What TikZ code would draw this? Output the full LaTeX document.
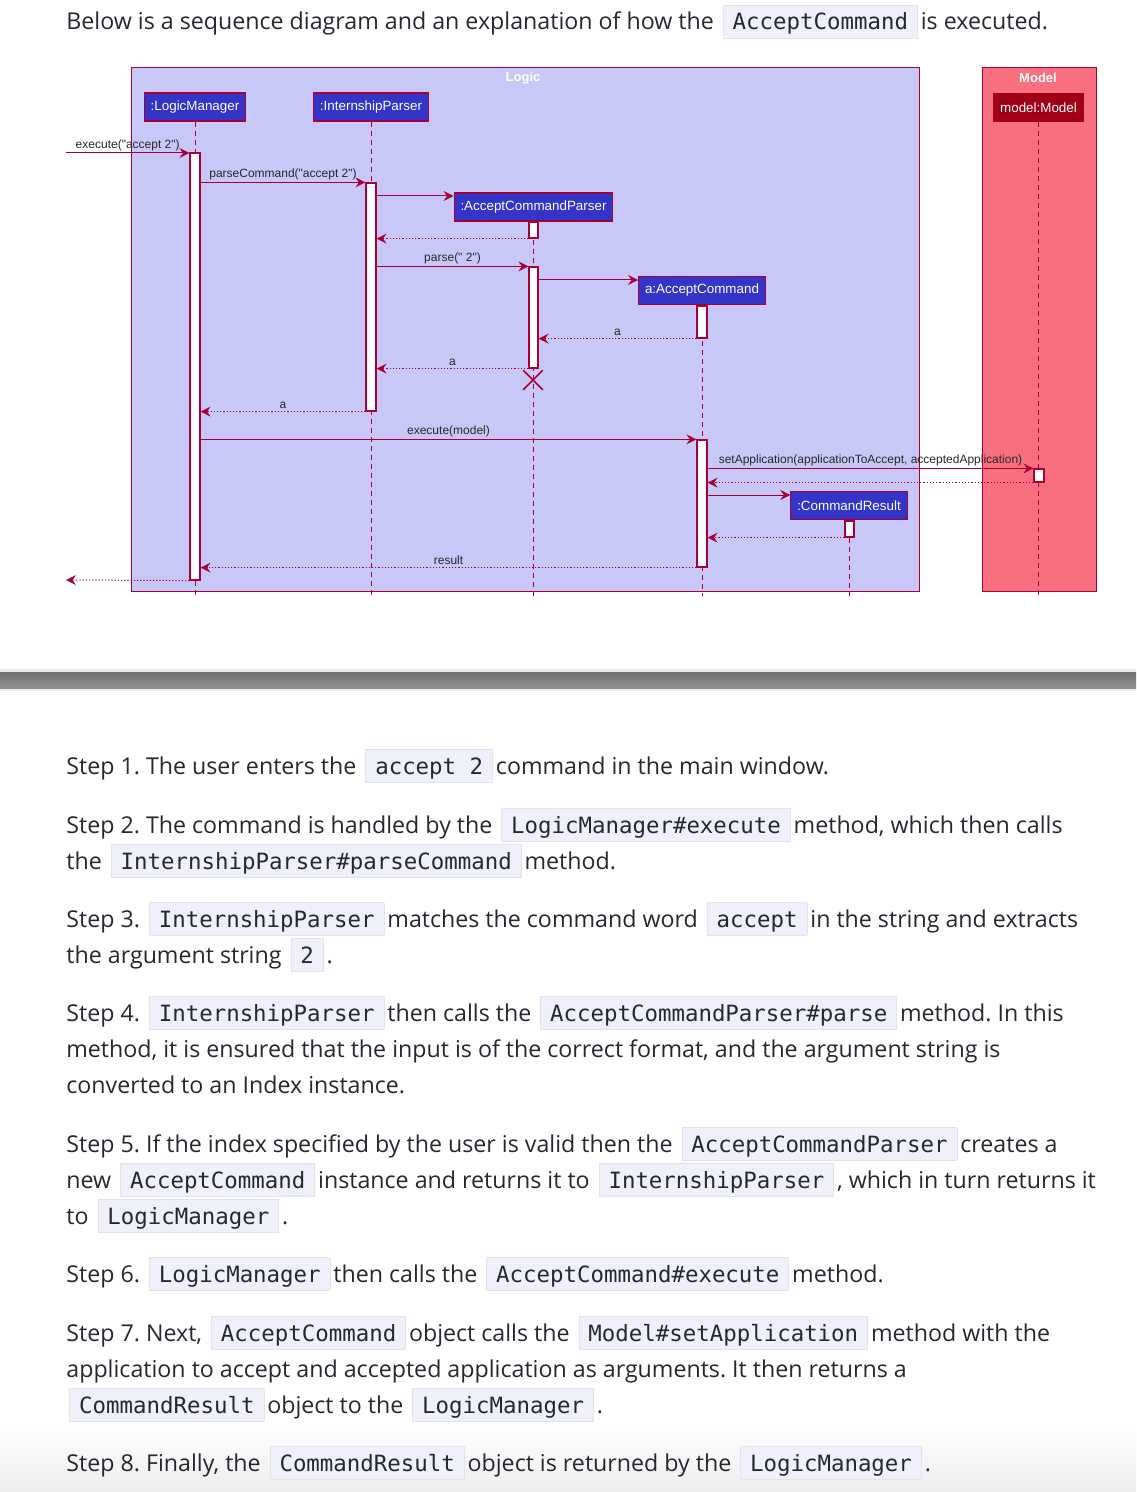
\documentclass[tikz,border=0pt]{standalone}
\usepackage{fontspec}
\setmainfont{Open Sans}
\newfontfamily\umlfont{Liberation Sans}
\newfontfamily\codefont{DejaVu Sans Mono}
\usetikzlibrary{arrows.meta,fit,shapes.misc,positioning}
\definecolor{LogicClr}{RGB}{200,200,248}
\definecolor{ModelClr}{RGB}{248,112,128}
\definecolor{UmlLine}{RGB}{168,0,54}
\definecolor{PartClr}{RGB}{52,52,200}
\definecolor{ModelPartClr}{RGB}{160,0,24}
\definecolor{CodeBg}{RGB}{240,240,251}
\definecolor{CodeLine}{RGB}{226,226,240}
\definecolor{TextClr}{RGB}{36,41,47}
\definecolor{LblClr}{RGB}{40,40,40}
\frenchspacing
\newcommand\code[1]{\kern1.5pt{\setlength{\fboxsep}{0pt}\setlength{\fboxrule}{0.4pt}%
\fcolorbox{CodeLine}{CodeBg}{\kern4.5pt\rule[-4pt]{0pt}{16pt}\codefont\fontsize{11.2}{16}\selectfont #1\kern4.5pt}}\kern1.5pt}

\begin{document}
\begin{tikzpicture}[x=0.5pt,y=-0.5pt,
  part/.style={draw=UmlLine,fill=PartClr,text=white,line width=0.6pt,inner xsep=3.2pt,inner ysep=0pt,
    minimum height=14pt,font=\umlfont\fontsize{6.7}{8}\selectfont},
  life/.style={UmlLine,line width=0.5pt,dash pattern=on 2.5pt off 2pt},
  actbar/.style={draw=UmlLine,fill=white,line width=0.6pt,inner sep=0pt},
  msg/.style={UmlLine,line width=0.5pt,-{Stealth[length=5pt,width=5pt,inset=1.8pt]}},
  ret/.style={msg,dash pattern=on 0.6pt off 1pt},
  lbl/.style={font=\umlfont\fontsize{6}{7}\selectfont,text=LblClr,inner sep=1pt,above},
  frametitle/.style={text=white,font=\umlfont\bfseries\fontsize{6.5}{8}\selectfont,inner sep=0pt},
  txt/.style={anchor=base west,inner sep=0pt,text=TextClr,font=\fontsize{11.6}{18}\selectfont}]
\useasboundingbox[fill=white] (0,0) rectangle (1136,1492);
\shade[top color=white,bottom color=black!7] (0,1425) rectangle (1136,1492);

% frames
\draw[UmlLine,fill=LogicClr,line width=0.5pt] (131,68) rectangle (919,591);
\draw[UmlLine,fill=ModelClr,line width=0.5pt] (982,68) rectangle (1096,591);
\node[frametitle] (logic) at (523,78) {Logic};
\node[frametitle] (model) at (1038,78) {Model};

% participants
\node[part] (lm) at (195,107) {:LogicManager};
\node[part] (ip) at (371,107) {:InternshipParser};
\node[part] (acp) at (533.5,207) {:AcceptCommandParser};
\node[part] (ac) at (702,290.5) {a:AcceptCommand};
\node[part] (cr) at (849,505.5) {:CommandResult};
\node[part,fill=ModelPartClr,draw=ModelPartClr] (md) at (1038.5,107.5) {model:Model};

\foreach \p in {lm,ip,acp,ac,cr,md}
  \draw[life] (\p.south) -- (\p.south |- 0,596);

% activations
\node[actbar,fit={(190,153) (200,580)}] (lmA) {};
\node[actbar,fit={(366,183) (376,411)}] (ipA) {};
\node[actbar,fit={(529,222) (538,238)}] (acpA1) {};
\node[actbar,fit={(529,267) (538,368)}] (acpA2) {};
\node[actbar,fit={(697,306) (707,338)}] (acA1) {};
\node[actbar,fit={(697,440) (707,567)}] (acA2) {};
\node[actbar,fit={(1034,469) (1044,482)}] (mdA) {};
\node[actbar,fit={(845,521) (854,537)}] (crA) {};
\node[draw=UmlLine,cross out,line width=0.8pt,minimum size=9pt,inner sep=0pt] (acpX) at (533,380) {};

\coordinate (in) at (66,153);
\coordinate (out) at (66,580);
\coordinate (newacp) at (0,196);
\coordinate (newac) at (0,280);
\coordinate (newcr) at (0,495);

% messages
\draw[msg] (in) -- (lmA.west |- in) node[lbl,midway] (l1) {execute("accept 2")};
\draw[msg] (lmA.east |- ipA.north) -- (ipA.north west) node[lbl,midway] (l2) {parseCommand("accept 2")};
\draw[msg] (ipA.east |- newacp) -- (acp.west |- newacp);
\draw[ret] (acpA1.south west) -- (ipA.east |- acpA1.south);
\draw[msg] (ipA.east |- acpA2.north) -- (acpA2.north west) node[lbl,midway] (l3) {parse(" 2")};
\draw[msg] (acpA2.east |- newac) -- (ac.west |- newac);
\draw[ret] (acA1.south west) -- (acpA2.east |- acA1.south) node[lbl,midway] (l4) {a};
\draw[ret] (acpA2.south west) -- (ipA.east |- acpA2.south) node[lbl,midway] (l5) {a};
\draw[ret] (ipA.south west) -- (lmA.east |- ipA.south) node[lbl,midway] (l6) {a};
\draw[msg] (lmA.east |- acA2.north) -- (acA2.north west) node[lbl,midway] (l7) {execute(model)};
\draw[msg] (acA2.east |- mdA.north) -- (mdA.north west) node[lbl,midway] (l8) {setApplication(applicationToAccept, acceptedApplication)};
\draw[ret] (mdA.south west) -- (acA2.east |- mdA.south);
\draw[msg] (acA2.east |- newcr) -- (cr.west |- newcr);
\draw[ret] (crA.south west) -- (acA2.east |- crA.south);
\draw[ret] (acA2.south west) -- (lmA.east |- acA2.south) node[lbl,midway] (l9) {result};
\draw[ret] (lmA.south west) -- (out);

% separator
\fill[black!8] (0,669) rectangle (1136,691);
\shade[top color=black!55,bottom color=black!44] (0,672) rectangle (1136,688);

% text
\node[txt] (head) at (66,30) {Below is a sequence diagram and an explanation of how the \code{AcceptCommand} is executed.};
\node[txt] (s1) at (66,774) {Step 1. The user enters the \code{accept 2} command in the main window.};
\node[txt] (s2a) at (66,833) {Step 2. The command is handled by the \code{LogicManager\#execute} method, which then calls};
\node[txt] (s2b) at (66,869) {the \code{InternshipParser\#parseCommand} method.};
\node[txt] (s3a) at (66,927) {Step 3. \code{InternshipParser} matches the command word \code{accept} in the string and extracts};
\node[txt] (s3b) at (66,963) {the argument string \code{2}.};
\node[txt] (s4a) at (66,1021) {Step 4. \code{InternshipParser} then calls the \code{AcceptCommandParser\#parse} method. In this};
\node[txt] (s4b) at (66,1057) {method, it is ensured that the input is of the correct format, and the argument string is};
\node[txt] (s4c) at (66,1093) {converted to an Index instance.};
\node[txt] (s5a) at (66,1152) {Step 5. If the index specified by the user is valid then the \code{AcceptCommandParser} creates a};
\node[txt] (s5b) at (66,1188) {new \code{AcceptCommand} instance and returns it to \code{InternshipParser}, which in turn returns it};
\node[txt] (s5c) at (66,1224) {to \code{LogicManager}.};
\node[txt] (s6) at (66,1282) {Step 6. \code{LogicManager} then calls the \code{AcceptCommand\#execute} method.};
\node[txt] (s7a) at (66,1341) {Step 7. Next, \code{AcceptCommand} object calls the \code{Model\#setApplication} method with the};
\node[txt] (s7b) at (66,1377) {application to accept and accepted application as arguments. It then returns a};
\node[txt] (s7c) at (66,1413) {\code{CommandResult} object to the \code{LogicManager}.};
\node[txt] (s8) at (66,1471) {Step 8. Finally, the \code{CommandResult} object is returned by the \code{LogicManager}.};
\end{tikzpicture}
\end{document}
